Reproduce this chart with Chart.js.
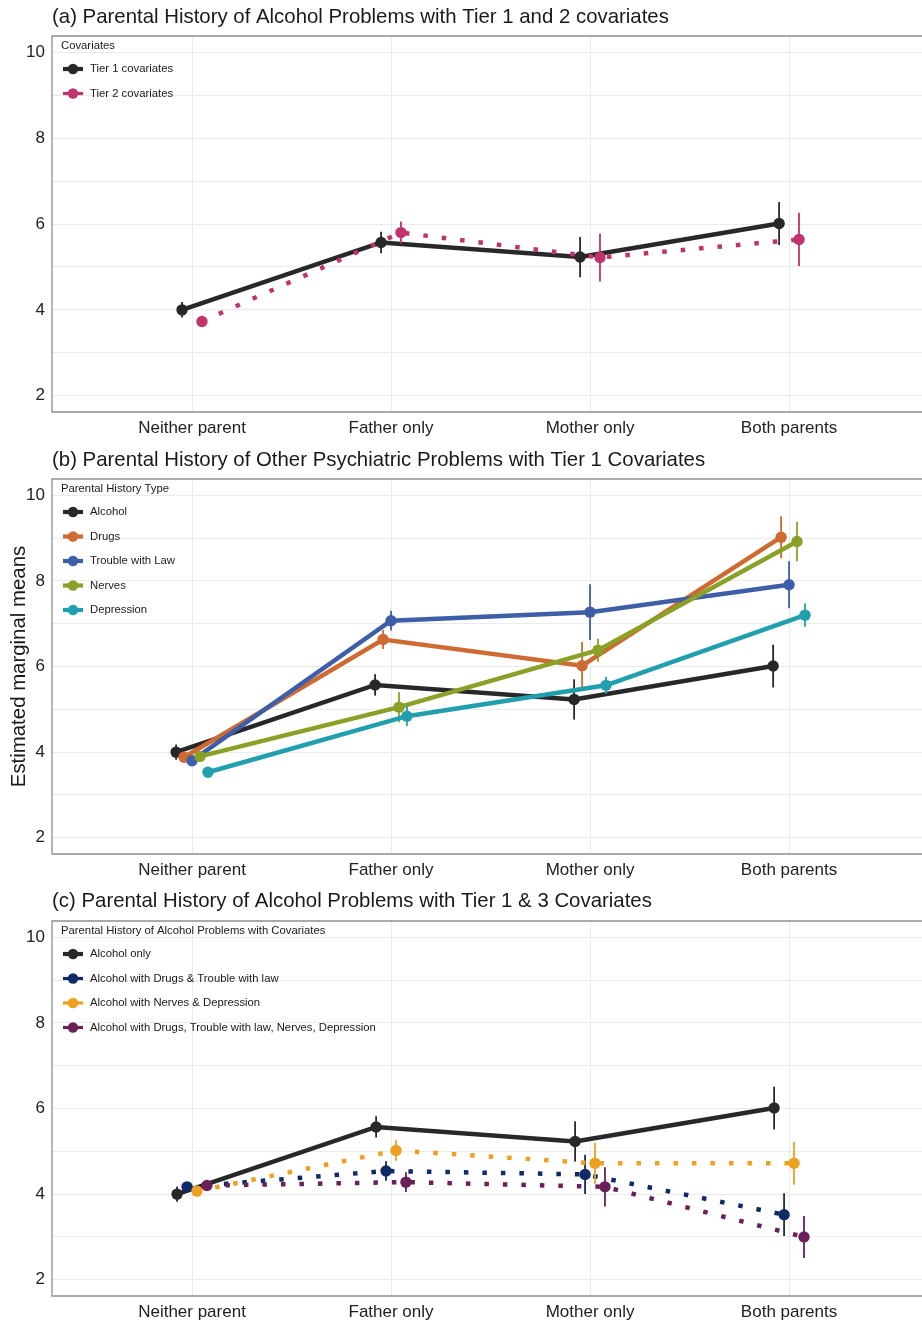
<!DOCTYPE html>
<html>
<head>
<meta charset="utf-8">
<script src="https://cdn.jsdelivr.net/npm/chart.js@4.4.0/dist/chart.umd.min.js"></script>
<style>
  html, body { margin: 0; padding: 0; background: #fff; width: 922px; height: 1325px; overflow: hidden; }
  .panel { position: absolute; left: 0; width: 922px; height: 442px; }
  canvas { display: block; }
</style>
</head>
<body>
<div class="panel" style="top:0px"><canvas id="panelA" width="922" height="442"></canvas></div>
<div class="panel" style="top:442px"><canvas id="panelB" width="922" height="442"></canvas></div>
<div class="panel" style="top:884px"><canvas id="panelC" width="922" height="442"></canvas></div>
<script>
// ---- data ----
const categories = ['Neither parent', 'Father only', 'Mother only', 'Both parents'];
const yTickValues = [2, 3, 4, 5, 6, 7, 8, 9, 10];

// (a) alcohol history, tier 1 vs tier 2 covariates
const tier1Means = [4.00, 5.57, 5.23, 6.01];
const tier1Err   = [0.18, 0.25, 0.47, 0.50];
const tier2Means = [3.73, 5.80, 5.22, 5.64];
const tier2Err   = [0.12, 0.26, 0.56, 0.62];

// (b) other parental psychiatric problems, tier 1 covariates
const alcoholMeans    = [4.00, 5.57, 5.23, 6.01];
const alcoholErr      = [0.18, 0.25, 0.47, 0.50];
const drugsMeans      = [3.88, 6.63, 6.02, 9.02];
const drugsErr        = [0.12, 0.22, 0.55, 0.49];
const lawMeans        = [3.80, 7.07, 7.27, 7.91];
const lawErr          = [0.10, 0.23, 0.65, 0.55];
const nervesMeans     = [3.90, 5.05, 6.38, 8.92];
const nervesErr       = [0.12, 0.35, 0.27, 0.46];
const depressionMeans = [3.53, 4.84, 5.56, 7.20];
const depressionErr   = [0.12, 0.23, 0.20, 0.27];

// (c) alcohol history, tier 1 & 3 covariates
const alcoholOnlyMeans = [4.00, 5.57, 5.23, 6.01];
const alcoholOnlyErr   = [0.18, 0.25, 0.47, 0.50];
const drugsLawMeans    = [4.17, 4.54, 4.46, 3.52];
const drugsLawErr      = [0.10, 0.23, 0.46, 0.50];
const nervesDepMeans   = [4.07, 5.02, 4.72, 4.72];
const nervesDepErr     = [0.12, 0.24, 0.48, 0.50];
const allFourMeans     = [4.20, 4.28, 4.17, 3.00];
const allFourErr       = [0.10, 0.23, 0.46, 0.49];

// ---- styling ----
const FONT = '"Liberation Sans", Arial, Helvetica, sans-serif';
Chart.defaults.font.family = FONT;
Chart.defaults.color = '#222';
const DODGE_WIDTH = 0.2;
const DOTTED = [4.5, 14];

// error bars drawn right after each dataset
const errorBarPlugin = {
  id: 'errorBars',
  afterDatasetDraw(chart, args) {
    const ds = chart.data.datasets[args.index];
    if (!ds.errors) return;
    const ctx = chart.ctx, ys = chart.scales.y;
    ctx.save();
    ctx.strokeStyle = ds.borderColor;
    ctx.lineWidth = 1.8;
    args.meta.data.forEach((pt, j) => {
      const v = ds.means[j], e = ds.errors[j];
      ctx.beginPath();
      ctx.moveTo(pt.x, ys.getPixelForValue(v - e));
      ctx.lineTo(pt.x, ys.getPixelForValue(v + e));
      ctx.stroke();
    });
    ctx.restore();
  }
};

// open panel box (left, top, bottom), panel title and in-plot legend
const panelDecorPlugin = {
  id: 'panelDecor',
  afterDraw(chart, args, opts) {
    const ctx = chart.ctx, a = chart.chartArea;
    ctx.save();
    ctx.strokeStyle = '#8e8e8e';
    ctx.lineWidth = 1.3;
    ctx.beginPath();
    ctx.moveTo(chart.width + 2, a.top);
    ctx.lineTo(a.left, a.top);
    ctx.lineTo(a.left, a.bottom);
    ctx.lineTo(chart.width + 2, a.bottom);
    ctx.stroke();

    ctx.fillStyle = '#1a1a1a';
    ctx.font = '20.4px ' + FONT;
    ctx.textBaseline = 'middle';
    ctx.textAlign = 'left';
    ctx.fillText(opts.title, a.left, opts.titleY);

    ctx.font = '11.3px ' + FONT;
    ctx.fillText(opts.legendTitle, a.left + 9, a.top + 10);
    chart.data.datasets.forEach((ds, i) => {
      const y = a.top + 33 + i * 24.5;
      ctx.strokeStyle = ds.borderColor;
      ctx.lineWidth = ds.borderDash && ds.borderDash.length ? 3.2 : 4.2;
      ctx.beginPath();
      ctx.moveTo(a.left + 11, y);
      ctx.lineTo(a.left + 31, y);
      ctx.stroke();
      ctx.fillStyle = ds.borderColor;
      ctx.beginPath();
      ctx.arc(a.left + 21, y, 5.2, 0, Math.PI * 2);
      ctx.fill();
      ctx.fillStyle = '#1a1a1a';
      ctx.fillText(ds.label, a.left + 38, y);
    });
    ctx.restore();
  }
};

function buildPanel(canvasId, cfg) {
  const n = cfg.series.length;
  const datasets = cfg.series.map((s, i) => {
    const offset = (i - (n - 1) / 2) * (DODGE_WIDTH / n);
    return {
      label: s.label,
      means: s.means,
      errors: s.errors,
      data: s.means.map((v, j) => ({ x: j + 1 + offset, y: v })),
      borderColor: s.color,
      backgroundColor: s.color,
      borderWidth: 4.5,
      borderDash: s.dotted ? DOTTED : [],
      borderCapStyle: 'butt',
      pointRadius: 5.7,
      pointBorderWidth: 0,
      pointBackgroundColor: s.color,
      tension: 0,
      order: n - i
    };
  });

  return new Chart(document.getElementById(canvasId), {
    type: 'line',
    data: { datasets },
    plugins: [errorBarPlugin, panelDecorPlugin],
    options: {
      responsive: false,
      animation: false,
      layout: { autoPadding: false, padding: { top: cfg.top, right: 0, bottom: 0, left: 0 } },
      plugins: {
        legend: { display: false },
        tooltip: { enabled: false },
        panelDecor: { title: cfg.title, titleY: cfg.titleY, legendTitle: cfg.legendTitle }
      },
      scales: {
        x: {
          type: 'linear',
          min: 0.2965,
          max: 4.668,
          afterBuildTicks: s => { s.ticks = categories.map((c, i) => ({ value: i + 1 })); },
          afterFit: s => { s.height = 30; },
          ticks: {
            autoSkip: false,
            maxRotation: 0,
            padding: 6,
            font: { size: 17 },
            color: '#222',
            callback: v => categories[v - 1]
          },
          grid: { color: '#ebebeb', lineWidth: 1, drawTicks: false },
          border: { display: false }
        },
        y: {
          type: 'linear',
          min: 1.62,
          max: 10.38,
          afterBuildTicks: s => { s.ticks = yTickValues.map(v => ({ value: v })); },
          afterFit: s => { s.width = 52; },
          ticks: {
            autoSkip: false,
            padding: 7,
            font: { size: 17 },
            color: '#222',
            callback: v => (v % 2 === 0 ? String(v) : '')
          },
          grid: { color: '#ebebeb', lineWidth: 1, drawTicks: false },
          border: { display: false },
          title: {
            display: !!cfg.yTitle,
            text: cfg.yTitle || '',
            font: { size: 20.4 },
            color: '#1a1a1a',
            padding: { top: 7, bottom: 0 }
          }
        }
      }
    }
  });
}

buildPanel('panelA', {
  title: '(a) Parental History of Alcohol Problems with Tier 1 and 2 covariates',
  titleY: 17,
  top: 36,
  legendTitle: 'Covariates',
  series: [
    { label: 'Tier 1 covariates', means: tier1Means, errors: tier1Err, color: '#282828' },
    { label: 'Tier 2 covariates', means: tier2Means, errors: tier2Err, color: '#c0336c', dotted: true }
  ]
});

buildPanel('panelB', {
  title: '(b) Parental History of Other Psychiatric Problems with Tier 1 Covariates',
  titleY: 18,
  top: 37,
  legendTitle: 'Parental History Type',
  yTitle: 'Estimated marginal means',
  series: [
    { label: 'Alcohol', means: alcoholMeans, errors: alcoholErr, color: '#282828' },
    { label: 'Drugs', means: drugsMeans, errors: drugsErr, color: '#cf6a32' },
    { label: 'Trouble with Law', means: lawMeans, errors: lawErr, color: '#3e5ea8' },
    { label: 'Nerves', means: nervesMeans, errors: nervesErr, color: '#88a126' },
    { label: 'Depression', means: depressionMeans, errors: depressionErr, color: '#219fae' }
  ]
});

buildPanel('panelC', {
  title: '(c) Parental History of Alcohol Problems with Tier 1 & 3 Covariates',
  titleY: 17,
  top: 37,
  legendTitle: 'Parental History of Alcohol Problems with Covariates',
  series: [
    { label: 'Alcohol only', means: alcoholOnlyMeans, errors: alcoholOnlyErr, color: '#282828' },
    { label: 'Alcohol with Drugs & Trouble with law', means: drugsLawMeans, errors: drugsLawErr, color: '#0f2a66', dotted: true },
    { label: 'Alcohol with Nerves & Depression', means: nervesDepMeans, errors: nervesDepErr, color: '#eea020', dotted: true },
    { label: 'Alcohol with Drugs, Trouble with law, Nerves, Depression', means: allFourMeans, errors: allFourErr, color: '#6a2058', dotted: true }
  ]
});
</script>
</body>
</html>
